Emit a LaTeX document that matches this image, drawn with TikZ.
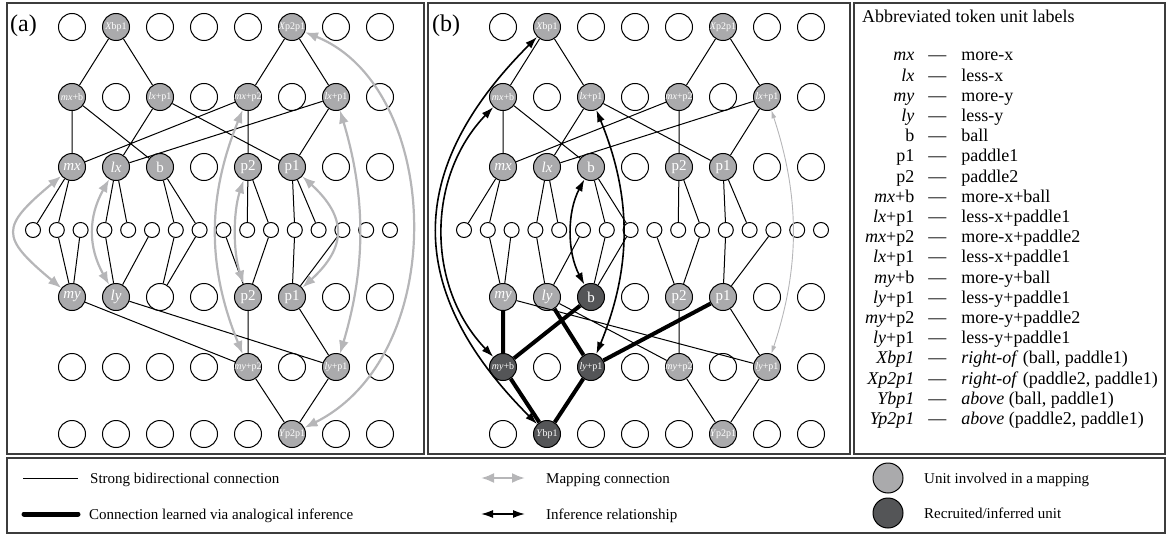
\documentclass[tikz,border=0pt]{standalone}
\usepackage{fontspec}
\setmainfont{Liberation Serif}
\usetikzlibrary{arrows.meta}
\definecolor{mapgray}{RGB}{170,170,172}
\definecolor{recgray}{RGB}{84,85,87}
\definecolor{arrowgray}{RGB}{182,182,184}
\definecolor{framegray}{RGB}{60,60,60}
\newcommand{\fs}[1]{\fontsize{#1}{#1}\selectfont}
\newcommand{\nowidth}[1]{\makebox[0pt]{#1}}

\begin{document}
\begin{tikzpicture}[x=1pt,y=-1pt,
    unit/.style={circle,draw,fill=white,minimum size=27pt,inner sep=0pt,line width=1pt},
    cell/.style={circle,draw,fill=white,minimum size=15pt,inner sep=0pt,line width=1pt},
    mapped/.style={unit,fill=mapgray,text=white,font=\fs{15}},
    recruited/.style={unit,fill=recgray,text=white,font=\fs{15}},
    compound/.style={font=\fs{10}},
    link/.style={line width=1pt},
    learned/.style={line width=4pt},
    mapping/.style={arrowgray,line width=2.2pt,{Latex[length=13pt,width=10pt]}-{Latex[length=13pt,width=10pt]}},
    infer/.style={line width=1.6pt,{Latex[length=12pt,width=8pt]}-{Latex[length=12pt,width=8pt]}},
    panel/.style={draw=framegray,line width=1.2pt},
    txt/.style={inner sep=0pt,anchor=base west}
  ]
  \useasboundingbox (0,0) rectangle (1168,535);
  % frames
  \draw[panel] (7,3) rectangle (424,454);
  \draw[panel] (428,3) rectangle (850,454);
  \draw[panel] (854,3) rectangle (1165,454);
  \draw[panel] (7,458) rectangle (1165,533);
  \node[txt,font=\fs{24}] (lbl-a) at (10,32) {(a)};
  \node[txt,font=\fs{24}] (lbl-b) at (432,32) {(b)};

  % empty units
  \foreach \r/\yy/\cols in {1/27/{0,2,3,4,6,7},2/97/{1,3,5,7},3/167/{3,6,7},5/297/{2,3,6,7},6/367/{0,1,2,3,5,7},7/434/{0,1,2,3,4,6,7}}
    \foreach \c in \cols
      \node[unit] (a-\r-\c) at ({72+44*\c},\yy) {};
  \foreach \r/\yy/\cols in {1/27/{0,2,3,4,6,7},2/97/{1,3,5,7},3/167/{3,6,7},5/297/{3,6,7},6/367/{1,3,5,7},7/434/{0,2,3,4,6,7}}
    \foreach \c in \cols
      \node[unit] (b-\r-\c) at ({503+44*\c},\yy) {};
  \foreach \j in {0,...,15} {
    \node[cell] (a-s\j) at ({33+23.8*\j},230) {};
    \node[cell] (b-s\j) at ({464+23.8*\j},230) {};
  }

  % panel (a)
  \node[mapped,compound] (a-xbp1) at (116,27) {\nowidth{\textit{X}bp1}};
  \node[mapped,compound] (a-xp2p1) at (292,27) {\nowidth{\textit{X}p2p1}};
  \node[mapped,compound] (a-mxb) at (72,97) {\nowidth{\textit{mx}+b}};
  \node[mapped,compound] (a-lxp1) at (160,97) {\nowidth{\textit{lx}+p1}};
  \node[mapped,compound] (a-mxp2) at (248,97) {\nowidth{\textit{mx}+p2}};
  \node[mapped,compound] (a-lxp1r) at (336,97) {\nowidth{\textit{lx}+p1}};
  \node[mapped] (a-mx) at (72,167) {\textit{mx}};
  \node[mapped] (a-lx) at (116,167) {\textit{lx}};
  \node[mapped] (a-b) at (160,167) {b};
  \node[mapped] (a-p2) at (248,167) {p2};
  \node[mapped] (a-p1) at (292,167) {p1};
  \node[mapped] (a-my) at (72,297) {\textit{my}};
  \node[mapped] (a-ly) at (116,297) {\textit{ly}};
  \node[mapped] (a-p2l) at (248,297) {p2};
  \node[mapped] (a-p1l) at (292,297) {p1};
  \node[mapped,compound] (a-myp2) at (248,367) {\nowidth{\textit{my}+p2}};
  \node[mapped,compound] (a-lyp1) at (336,367) {\nowidth{\textit{ly}+p1}};
  \node[mapped,compound] (a-yp2p1) at (292,434) {\nowidth{\textit{Y}p2p1}};

  \draw[link] (a-xbp1) -- (a-mxb) (a-xbp1) -- (a-lxp1) (a-xp2p1) -- (a-mxp2) (a-xp2p1) -- (a-lxp1r)
    (a-mxb) -- (a-mx) (a-mxb) -- (a-b) (a-lxp1) -- (a-lx) (a-lxp1) -- (a-p1)
    (a-mxp2) -- (a-p2) (a-mxp2) -- (a-mx) (a-lxp1r) -- (a-p1) (a-lxp1r) -- (a-lx);
  \draw[link] (a-mx) -- (a-s0) (a-mx) -- (a-s1) (a-lx) -- (a-s3) (a-lx) -- (a-s4)
    (a-b) -- (a-s6) (a-b) -- (a-s7) (a-p2) -- (a-s9) (a-p2) -- (a-s10)
    (a-p1) -- (a-s11) (a-p1) -- (a-s12);
  \draw[link] (a-my) -- (a-s1) (a-my) -- (a-s2) (a-ly) -- (a-s3) (a-ly) -- (a-s5)
    (a-5-2) -- (a-s6) (a-5-2) -- (a-s7) (a-p2l) -- (a-s8) (a-p2l) -- (a-s10)
    (a-p1l) -- (a-s11) (a-p1l) -- (a-s13);
  \draw[link] (a-my) -- (a-myp2) (a-ly) -- (a-lyp1) (a-p2l) -- (a-myp2) (a-p1l) -- (a-lyp1)
    (a-myp2) -- (a-yp2p1) (a-lyp1) -- (a-yp2p1);

  \draw[mapping] (a-mx) .. controls +(-72,60) and +(-72,-60) .. (a-my);
  \draw[mapping] (a-lx) .. controls +(-28,50) and +(-28,-50) .. (a-ly);
  \draw[mapping] (a-p2) .. controls +(-15,45) and +(-15,-45) .. (a-p2l);
  \draw[mapping] (a-p1) .. controls +(55,50) and +(55,-50) .. (a-p1l);
  \draw[mapping] (a-mxp2) .. controls +(-41,100) and +(-41,-100) .. (a-myp2);
  \draw[mapping] (a-lxp1r) .. controls +(30,100) and +(30,-100) .. (a-lyp1);
  \draw[mapping] (a-xp2p1) .. controls +(150,60) and +(160,-80) .. (a-yp2p1);

  % panel (b)
  \node[mapped,compound] (b-xbp1) at (547,27) {\nowidth{\textit{X}bp1}};
  \node[mapped,compound] (b-xp2p1) at (723,27) {\nowidth{\textit{X}p2p1}};
  \node[mapped,compound] (b-mxb) at (503,97) {\nowidth{\textit{mx}+b}};
  \node[mapped,compound] (b-lxp1) at (591,97) {\nowidth{\textit{lx}+p1}};
  \node[mapped,compound] (b-mxp2) at (679,97) {\nowidth{\textit{mx}+p2}};
  \node[mapped,compound] (b-lxp1r) at (767,97) {\nowidth{\textit{lx}+p1}};
  \node[mapped] (b-mx) at (503,167) {\textit{mx}};
  \node[mapped] (b-lx) at (547,167) {\textit{lx}};
  \node[mapped] (b-b) at (591,167) {b};
  \node[mapped] (b-p2) at (679,167) {p2};
  \node[mapped] (b-p1) at (723,167) {p1};
  \node[mapped] (b-my) at (503,297) {\textit{my}};
  \node[mapped] (b-ly) at (547,297) {\textit{ly}};
  \node[recruited] (b-bl) at (591,297) {b};
  \node[mapped] (b-p2l) at (679,297) {p2};
  \node[mapped] (b-p1l) at (723,297) {p1};
  \node[recruited,compound] (b-myb) at (503,367) {\nowidth{\textit{my}+b}};
  \node[recruited,compound] (b-lyp1) at (591,367) {\nowidth{\textit{ly}+p1}};
  \node[mapped,compound] (b-myp2) at (679,367) {\nowidth{\textit{my}+p2}};
  \node[mapped,compound] (b-lyp1r) at (767,367) {\nowidth{\textit{ly}+p1}};
  \node[recruited,compound] (b-ybp1) at (547,434) {\nowidth{\textit{Y}bp1}};
  \node[mapped,compound] (b-yp2p1) at (723,434) {\nowidth{\textit{Y}p2p1}};

  \draw[link] (b-xbp1) -- (b-mxb) (b-xbp1) -- (b-lxp1) (b-xp2p1) -- (b-mxp2) (b-xp2p1) -- (b-lxp1r)
    (b-mxb) -- (b-mx) (b-mxb) -- (b-b) (b-lxp1) -- (b-lx) (b-lxp1) -- (b-p1)
    (b-mxp2) -- (b-p2) (b-mxp2) -- (b-mx) (b-lxp1r) -- (b-p1) (b-lxp1r) -- (b-lx);
  \draw[link] (b-mx) -- (b-s0) (b-mx) -- (b-s1) (b-lx) -- (b-s3) (b-lx) -- (b-s4)
    (b-b) -- (b-s6) (b-b) -- (b-s7) (b-p2) -- (b-s9) (b-p2) -- (b-s10)
    (b-p1) -- (b-s11) (b-p1) -- (b-s12);
  \draw[link] (b-my) -- (b-s1) (b-my) -- (b-s2) (b-ly) -- (b-s3) (b-ly) -- (b-s5)
    (b-bl) -- (b-s6) (b-bl) -- (b-s7) (b-p2l) -- (b-s8) (b-p2l) -- (b-s10)
    (b-p1l) -- (b-s11) (b-p1l) -- (b-s13);
  \draw[link] (b-my) -- (b-lyp1r) (b-ly) -- (b-myp2) (b-p2l) -- (b-myp2) (b-p1l) -- (b-lyp1r)
    (b-myp2) -- (b-yp2p1) (b-lyp1r) -- (b-yp2p1);
  \draw[learned] (b-my) -- (b-myb) (b-bl) -- (b-myb) (b-ly) -- (b-lyp1) (b-p1l) -- (b-lyp1)
    (b-myb) -- (b-ybp1) (b-lyp1) -- (b-ybp1);

  \draw[infer] (b-xbp1) .. controls +(-143,143) and +(-143,-143) .. (b-ybp1);
  \draw[infer] (b-mxb) .. controls +(-77,80) and +(-77,-80) .. (b-myb);
  \draw[infer] (b-b) .. controls +(-24,45) and +(-24,-45) .. (b-bl);
  \draw[infer] (b-lxp1) .. controls +(41,100) and +(41,-100) .. (b-lyp1);
  \draw[arrowgray,line width=0.9pt,{Latex[length=8pt,width=5pt]}-{Latex[length=8pt,width=5pt]}]
    (b-lxp1r) .. controls +(33,100) and +(33,-100) .. (b-lyp1r);

  % abbreviations
  \node[txt,font=\fs{18}] (abbrev-title) at (862,23) {Abbreviated token unit labels};
  \node[txt,font=\fontsize{18}{20.2}\selectfont] (abbrev) at (865,61) {%
    \begin{tabular}[t]{@{}r@{\hspace{14pt}---\hspace{15pt}}l@{}}
      \textit{mx} & more-x\\
      \textit{lx} & less-x\\
      \textit{my} & more-y\\
      \textit{ly} & less-y\\
      b & ball\\
      p1 & paddle1\\
      p2 & paddle2\\
      \textit{mx}+b & more-x+ball\\
      \textit{lx}+p1 & less-x+paddle1\\
      \textit{mx}+p2 & more-x+paddle2\\
      \textit{lx}+p1 & less-x+paddle1\\
      \textit{my}+b & more-y+ball\\
      \textit{ly}+p1 & less-y+paddle1\\
      \textit{my}+p2 & more-y+paddle2\\
      \textit{ly}+p1 & less-y+paddle1\\
      \textit{Xbp1} & \textit{right-of} (ball, paddle1)\\
      \textit{Xp2p1} & \textit{right-of} (paddle2, paddle1)\\
      \textit{Ybp1} & \textit{above} (ball, paddle1)\\
      \textit{Yp2p1} & \textit{above} (paddle2, paddle1)
    \end{tabular}};

  % key
  \coordinate (k-thin-l) at (23,478); \coordinate (k-thin-r) at (78,478);
  \coordinate (k-thick-l) at (24,514); \coordinate (k-thick-r) at (78,514);
  \coordinate (k-map-l) at (481,478); \coordinate (k-map-r) at (525,478);
  \coordinate (k-inf-l) at (481,514); \coordinate (k-inf-r) at (525,514);
  \draw[link] (k-thin-l) -- (k-thin-r);
  \draw[learned,line width=5pt,line cap=round] (k-thick-l) -- (k-thick-r);
  \draw[mapping] (k-map-l) -- (k-map-r);
  \draw[infer] (k-inf-l) -- (k-inf-r);
  \node[mapped,minimum size=30pt] (k-unit) at (888,478) {};
  \node[recruited,minimum size=30pt] (k-rec) at (888,513) {};
  \node[txt,font=\fs{15}] (k-thin) at (90,483) {Strong bidirectional connection};
  \node[txt,font=\fs{15}] (k-thick) at (89,519) {Connection learned via analogical inference};
  \node[txt,font=\fs{15}] (k-map) at (546,483) {Mapping connection};
  \node[txt,font=\fs{15}] (k-inf) at (546,519) {Inference relationship};
  \node[txt,font=\fs{15}] (k-unit-t) at (924,483) {Unit involved in a mapping};
  \node[txt,font=\fs{15}] (k-rec-t) at (924,518) {Recruited/inferred unit};
\end{tikzpicture}
\end{document}
